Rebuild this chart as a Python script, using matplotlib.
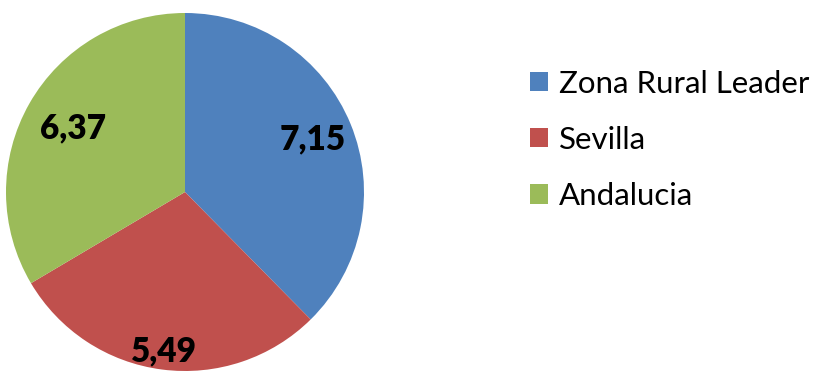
import matplotlib.pyplot as plt
import numpy as np

# Porcentajes por ámbito territorial
categories = ['Zona Rural Leader', 'Sevilla', 'Andalucia']
values = [7.15, 5.49, 6.37]
value_labels = ['7,15', '5,49', '6,37']
colors = ['#4F81BD', '#C0504D', '#9BBB59']

# radial position of each value label (fraction of radius)
label_dist = [0.77, 0.90, 0.72]

plt.rcParams['font.family'] = ['Lato', 'DejaVu Sans']

fig = plt.figure(figsize=(8.16, 3.73), dpi=100)
ax = fig.add_axes([6 / 816, 2 / 373, 358 / 816, 358 / 373])

wedges, _ = ax.pie(values, colors=colors, startangle=90, counterclock=False,
                   radius=1.0, wedgeprops=dict(linewidth=0))
ax.set_xlim(-1, 1)
ax.set_ylim(-1, 1)
ax.set_aspect('equal')
ax.axis('off')

for w, lab, d in zip(wedges, value_labels, label_dist):
    ang = np.deg2rad((w.theta1 + w.theta2) / 2)
    ax.text(d * np.cos(ang), d * np.sin(ang), lab, ha='center', va='center',
            fontsize=24, fontweight='heavy', color='black')

leg = fig.legend(wedges, categories, loc='upper left',
                 bbox_to_anchor=(514 / 816, 1 - 54 / 373), frameon=False,
                 fontsize=22.5, handlelength=0.58, handleheight=0.58,
                 handletextpad=0.35, labelspacing=0.9, borderpad=0)

fig.savefig('out.png', dpi=100)
